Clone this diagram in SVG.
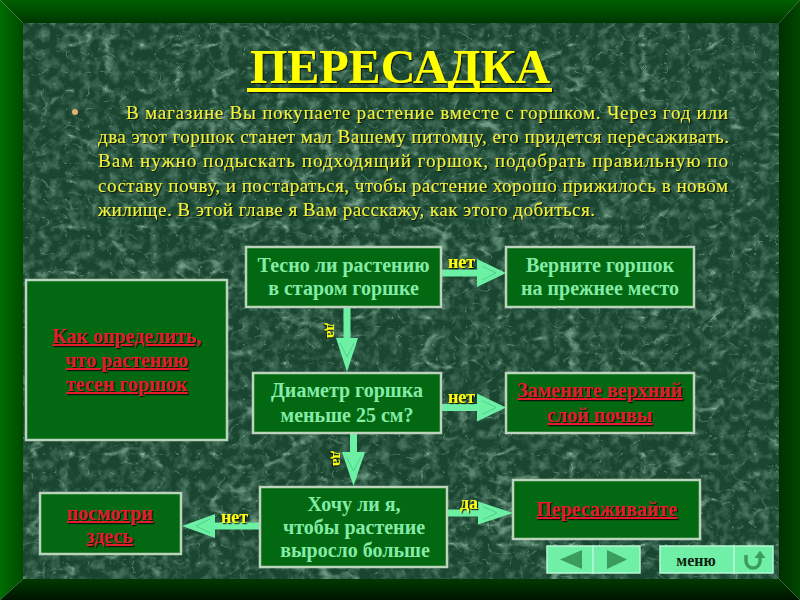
<svg xmlns="http://www.w3.org/2000/svg" width="800" height="600" viewBox="0 0 800 600">
<defs>
<style>
.box{fill:#036812;stroke:#bcd4bc;stroke-width:2.5}
.bt{font-family:"Liberation Serif","Times New Roman",serif;font-weight:bold;font-size:20px;fill:#84eca6;text-anchor:middle}
.rt{font-family:"Liberation Serif","Times New Roman",serif;font-weight:bold;font-size:20px;fill:#e41e2c;text-anchor:middle;text-decoration:underline;filter:url(#sh)}
.yl{font-family:"Liberation Serif","Times New Roman",serif;font-weight:bold;font-size:18px;fill:#ffff10;filter:url(#sh)}
.yr{font-family:"Liberation Serif","Times New Roman",serif;font-weight:bold;font-size:15px;fill:#ffff10;filter:url(#sh)}
.par{font-family:"Liberation Serif","Times New Roman",serif;font-size:19px;fill:#f2f23a;filter:url(#sh)}
.arr{fill:#6cf0a4}
.chev{fill:none;stroke:#4cc487;stroke-width:1;opacity:.8}
.nav{fill:#6ff0a6;stroke:#b4f8d4;stroke-width:1.5}
.navi{fill:#3c9c5e}
</style>
<filter id="sh" x="-10%" y="-30%" width="120%" height="160%">
<feDropShadow dx="1.2" dy="1.2" stdDeviation="0.4" flood-color="#000" flood-opacity="0.75"/>
</filter>
<filter id="marble1" x="0" y="0" width="1" height="1">
<feTurbulence type="turbulence" baseFrequency="0.014 0.022" numOctaves="4" seed="7"/>
<feColorMatrix type="matrix" values="0 0 0 0 0.42 0 0 0 0 0.70 0 0 0 0 0.54 -4 0 0 0 0.6"/>
</filter>
<filter id="marble2" x="0" y="0" width="1" height="1">
<feTurbulence type="turbulence" baseFrequency="0.045 0.055" numOctaves="2" seed="21"/>
<feColorMatrix type="matrix" values="0 0 0 0 0.36 0 0 0 0 0.62 0 0 0 0 0.48 -5 0 0 0 0.35"/>
</filter>
<filter id="mottle" x="0" y="0" width="1" height="1">
<feTurbulence type="fractalNoise" baseFrequency="0.1" numOctaves="3" seed="4"/>
<feColorMatrix type="matrix" values="0 0 0 0 0.28 0 0 0 0 0.52 0 0 0 0 0.40 1.0 0 0 0 -0.42"/>
</filter>
<linearGradient id="gTop" x1="0" y1="0" x2="0" y2="1"><stop offset="0" stop-color="#005f00"/><stop offset="1" stop-color="#003800"/></linearGradient>
<linearGradient id="gLeft" x1="0" y1="0" x2="1" y2="0"><stop offset="0" stop-color="#006c00"/><stop offset="1" stop-color="#004a00"/></linearGradient>
<linearGradient id="gRight" x1="0" y1="0" x2="1" y2="0"><stop offset="0" stop-color="#003000"/><stop offset="1" stop-color="#004600"/></linearGradient>
<linearGradient id="gBot" x1="0" y1="0" x2="0" y2="1"><stop offset="0" stop-color="#003a00"/><stop offset="1" stop-color="#001400"/></linearGradient>
</defs>

<g id="frame">
<polygon points="0,0 800,0 779,23 23,23" fill="url(#gTop)"/>
<polygon points="0,0 23,23 23,579 0,600" fill="url(#gLeft)"/>
<polygon points="800,0 800,600 779,579 779,23" fill="url(#gRight)"/>
<polygon points="0,600 23,579 779,579 800,600" fill="url(#gBot)"/>
</g>

<g id="background">
<rect x="23" y="23" width="756" height="556" fill="#1a4530"/>
<rect x="23" y="23" width="756" height="556" filter="url(#mottle)"/>
<rect x="23" y="23" width="756" height="556" filter="url(#marble2)"/>
<rect x="23" y="23" width="756" height="556" filter="url(#marble1)"/>
</g>

<g id="title">
<text x="400" y="83" font-family="'Liberation Serif','Times New Roman',serif" font-weight="bold" font-size="48" fill="#ffff00" text-anchor="middle" filter="url(#sh)">ПЕРЕСАДКА</text>
<rect x="247" y="88" width="305" height="4" fill="#ffff00" filter="url(#sh)"/>
</g>

<g id="paragraph">
<circle cx="75" cy="112" r="3" fill="#e6b070"/>
<text class="par" x="126" y="119" textLength="602" lengthAdjust="spacing">В магазине Вы покупаете растение вместе с горшком. Через год или</text>
<text class="par" x="98" y="143" textLength="631" lengthAdjust="spacing">два этот горшок станет мал Вашему питомцу, его придется пересаживать.</text>
<text class="par" x="98" y="167" textLength="630" lengthAdjust="spacing">Вам нужно подыскать подходящий горшок, подобрать правильную по</text>
<text class="par" x="98" y="192" textLength="630" lengthAdjust="spacing">составу почву, и постараться, чтобы растение хорошо прижилось в новом</text>
<text class="par" x="98" y="216" textLength="497" lengthAdjust="spacing">жилище. В этой главе я Вам расскажу, как этого добиться.</text>
</g>

<g id="connectors">
<polygon class="arr" points="441,269.5 477,269.5 477,259 506,273 477,287 477,276.5 441,276.5"/>
<polyline class="chev" points="482,266 496,273 482,280"/>
<polygon class="arr" points="441,404 477,404 477,393.5 506,407.5 477,421.5 477,411 441,411"/>
<polyline class="chev" points="482,400.5 496,407.5 482,414.5"/>
<polygon class="arr" points="343.5,306 350.5,306 350.5,338 358,338 347,372 336,338 343.5,338"/>
<polyline class="chev" points="340,343 347,357 354,343"/>
<polygon class="arr" points="350,433 357,433 357,452 365,452 353.5,486 342,452 350,452"/>
<polyline class="chev" points="346.5,457 353.5,471 360.5,457"/>
<polygon class="arr" points="260,522.5 215,522.5 215,514 182,526 215,538 215,529.5 260,529.5"/>
<polyline class="chev" points="210,519 196,526 210,533"/>
<polygon class="arr" points="447,509.5 478,509.5 478,501.5 513,513 478,524.5 478,516.5 447,516.5"/>
<polyline class="chev" points="483,506.5 497,513 483,519.5"/>
<text class="yl" x="448" y="268">нет</text>
<text class="yl" x="448" y="403">нет</text>
<text class="yl" x="221" y="523">нет</text>
<text class="yl" x="460" y="509">да</text>
<text class="yr" transform="translate(327,323) rotate(90)">да</text>
<text class="yr" transform="translate(333,451) rotate(90)">да</text>
</g>

<g id="node-tesno">
<rect class="box" x="246" y="247" width="195" height="60"/>
<text class="bt" x="343.5" y="272">Тесно ли растению</text>
<text class="bt" x="343.5" y="295">в старом горшке</text>
</g>
<g id="node-vernite">
<rect class="box" x="506" y="247" width="188" height="60"/>
<text class="bt" x="600" y="272">Верните горшок</text>
<text class="bt" x="600" y="295"> на прежнее место</text>
</g>
<g id="node-kak">
<rect class="box" x="26" y="280" width="201" height="160"/>
<text class="rt" x="127" y="343">Как определить,</text>
<text class="rt" x="127" y="367">что растению</text>
<text class="rt" x="127" y="391">тесен горшок</text>
</g>
<g id="node-diametr">
<rect class="box" x="253" y="373" width="188" height="60"/>
<text class="bt" x="347" y="397">Диаметр горшка</text>
<text class="bt" x="347" y="422">меньше 25 см?</text>
</g>
<g id="node-zamenite">
<rect class="box" x="506" y="373" width="188" height="60"/>
<text class="rt" x="600" y="397">Замените верхний</text>
<text class="rt" x="600" y="422"> слой почвы</text>
</g>
<g id="node-hochu">
<rect class="box" x="260" y="487" width="187" height="80"/>
<text class="bt" x="354" y="511">Хочу ли я,</text>
<text class="bt" x="354" y="534">чтобы растение</text>
<text class="bt" x="355" y="557">выросло больше</text>
</g>
<g id="node-posmotri">
<rect class="box" x="40" y="493" width="141" height="61"/>
<text class="rt" x="110" y="520">посмотри</text>
<text class="rt" x="110" y="543">здесь</text>
</g>
<g id="node-peresazh">
<rect class="box" x="513" y="480" width="187" height="59"/>
<text class="rt" x="607" y="516">Пересаживайте</text>
</g>

<g id="nav-arrows">
<rect class="nav" x="547" y="546" width="46" height="27"/>
<rect class="nav" x="593" y="546" width="47" height="27"/>
<polygon class="navi" points="560,559.5 582,550 582,569"/>
<polygon class="navi" points="627,559.5 607,550 607,569"/>
</g>
<g id="nav-menu">
<rect class="nav" x="660" y="546" width="74" height="27"/>
<rect class="nav" x="734" y="546" width="39" height="27"/>
<text x="696" y="566" font-family="'Liberation Serif','Times New Roman',serif" font-weight="bold" font-size="16" fill="#102010" text-anchor="middle">меню</text>
<path d="M746,555 V561 A7,7 0 0 0 760,561 V557" fill="none" stroke="#3c9c5e" stroke-width="3.5"/>
<polygon points="754.5,558 760,550.5 765.5,558" fill="#3c9c5e"/>
</g>
</svg>
